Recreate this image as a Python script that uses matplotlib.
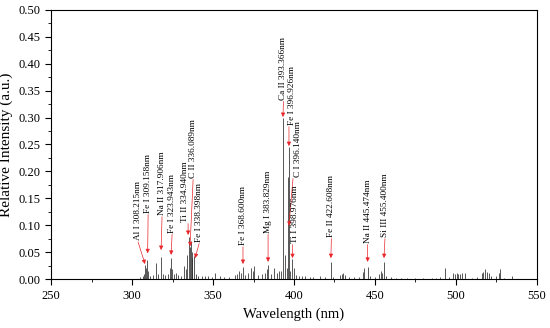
import matplotlib
matplotlib.use("Agg")
import matplotlib.pyplot as plt
from matplotlib.ticker import MultipleLocator

plt.rcParams['font.family'] = ['Liberation Serif', 'DejaVu Serif']

# Emission lines: wavelength (nm) and relative intensity
line_wl = [305.0, 306.5, 307.5, 308.2, 308.6, 309.2, 309.8, 311.0, 313.0, 315.0,
           316.0, 317.9, 319.0, 320.5, 322.0, 323.4, 323.9, 324.8, 326.0, 327.4,
           328.5, 330.0, 332.0, 333.0, 334.0, 334.9, 335.5, 336.1, 336.8, 337.3,
           338.4, 339.5, 341.0, 343.0, 345.0, 347.0, 349.5, 351.5, 354.0, 357.0,
           360.0, 363.5, 365.0, 366.0, 367.0, 368.6, 370.0, 371.5, 373.5, 374.5,
           375.5, 378.0, 380.0, 382.0, 383.2, 383.8, 385.5, 387.5, 389.5, 390.5,
           392.0, 393.37, 394.4, 395.5, 396.6, 396.85, 397.5, 399.0, 399.8, 401.0,
           403.0, 405.0, 407.0, 410.0, 412.0, 416.0, 419.0, 422.6, 424.0, 428.5,
           429.5, 430.5, 431.5, 434.0, 437.0, 440.0, 442.5, 443.5, 445.5, 447.0,
           450.0, 452.5, 453.5, 454.5, 455.4, 457.0, 460.0, 463.0, 466.0, 470.0,
           475.0, 480.0, 485.0, 488.0, 490.0, 493.4, 496.0, 498.5, 499.5, 500.5,
           501.5, 502.5, 503.5, 505.5, 510.0, 513.0, 516.0, 517.0, 518.0, 519.0,
           520.5, 522.0, 524.5, 526.5, 527.0, 530.0, 534.5]
line_int = [0.004, 0.006, 0.010, 0.026, 0.020, 0.035, 0.015, 0.006, 0.008, 0.030,
            0.010, 0.041, 0.010, 0.008, 0.010, 0.020, 0.039, 0.018, 0.010, 0.012,
            0.008, 0.006, 0.025, 0.018, 0.045, 0.079, 0.060, 0.070, 0.050, 0.040,
            0.043, 0.010, 0.006, 0.005, 0.006, 0.005, 0.004, 0.012, 0.005, 0.004,
            0.004, 0.008, 0.010, 0.015, 0.012, 0.023, 0.008, 0.012, 0.020, 0.015,
            0.025, 0.008, 0.010, 0.012, 0.018, 0.026, 0.010, 0.020, 0.012, 0.016,
            0.015, 0.300, 0.045, 0.020, 0.190, 0.245, 0.015, 0.038, 0.020, 0.008,
            0.006, 0.005, 0.006, 0.004, 0.004, 0.005, 0.004, 0.032, 0.004, 0.008,
            0.010, 0.012, 0.008, 0.004, 0.004, 0.004, 0.014, 0.020, 0.023, 0.005,
            0.004, 0.010, 0.016, 0.012, 0.032, 0.006, 0.004, 0.003, 0.003, 0.002,
            0.002, 0.002, 0.003, 0.003, 0.004, 0.020, 0.004, 0.012, 0.010, 0.012,
            0.010, 0.010, 0.012, 0.012, 0.003, 0.004, 0.012, 0.014, 0.018, 0.014,
            0.012, 0.006, 0.005, 0.012, 0.018, 0.003, 0.006]

# Peak annotations
labels = ['Al I 308.215nm', 'Fe I 309.158nm', 'Na II 317.906nm', 'Fe I 323.943nm',
          'Ti II 334.940nm', 'C II 336.089nm', 'Fe I 338.398nm', 'Fe I 368.600nm',
          'Mg I 383.829nm', 'Ca II 393.366nm', 'Fe I 396.926nm', 'C I 396.140nm',
          'Ti I 398.976nm', 'Fe II 422.608nm', 'Na II 445.474nm', 'Si III 455.400nm']
text_x = [303.7, 309.9, 318.5, 324.7, 332.7, 337.7, 341.4, 368.5,
          384.0, 393.5, 398.8, 402.5, 400.6, 423.1, 445.5, 456.2]
text_y = [0.072, 0.123, 0.119, 0.086, 0.106, 0.188, 0.069, 0.063,
          0.086, 0.333, 0.286, 0.190, 0.067, 0.078, 0.067, 0.078]
tail_x = [303.7, 309.9, 318.5, 324.7, 334.6, 337.7, 341.4, 368.5,
          384.0, 393.5, 396.9, 399.4, 399.1, 423.1, 445.5, 456.2]
tip_x = [308.0, 309.6, 317.9, 324.1, 334.6, 335.8, 338.9, 368.5,
         384.0, 393.2, 396.9, 396.9, 399.1, 422.8, 445.5, 455.6]
tip_y = [0.028, 0.048, 0.054, 0.045, 0.082, 0.061, 0.039, 0.028,
         0.032, 0.301, 0.247, 0.099, 0.039, 0.039, 0.032, 0.039]

fig = plt.figure(figsize=(5.5, 3.28), dpi=100)
ax = fig.add_axes([0.093, 0.149, 0.883, 0.821])

ax.plot([280, 540], [0.001, 0.001], color='#666666', lw=0.5)
ax.vlines(line_wl, 0, line_int, color='#2a2a2a', lw=0.55)

for lab, tx, ty, ax_, px, py in zip(labels, text_x, text_y, tail_x, tip_x, tip_y):
    ax.text(tx, ty, lab, rotation=90, ha='center', va='bottom', fontsize=6.7)
    ax.annotate('', xy=(px, py), xytext=(ax_, ty - 0.003),
                arrowprops=dict(arrowstyle='-|>', color='#e8262a', lw=0.5,
                                mutation_scale=6, shrinkA=0, shrinkB=0))

ax.set_xlim(250, 550)
ax.set_ylim(0, 0.5)
ax.xaxis.set_major_locator(MultipleLocator(50))
ax.xaxis.set_minor_locator(MultipleLocator(25))
ax.yaxis.set_major_locator(MultipleLocator(0.05))
ax.yaxis.set_minor_locator(MultipleLocator(0.025))
ax.yaxis.set_major_formatter(plt.FormatStrFormatter('%.2f'))
ax.tick_params(which='major', direction='out', length=4, width=0.8, labelsize=9)
ax.tick_params(which='minor', direction='out', length=2, width=0.6)
for s in ax.spines.values():
    s.set_linewidth(0.8)

ax.set_xlabel('Wavelength (nm)', fontsize=10.5)
ax.set_ylabel('Relative Intensity (a.u.)', fontsize=11)

fig.savefig('out.png', dpi=100)
